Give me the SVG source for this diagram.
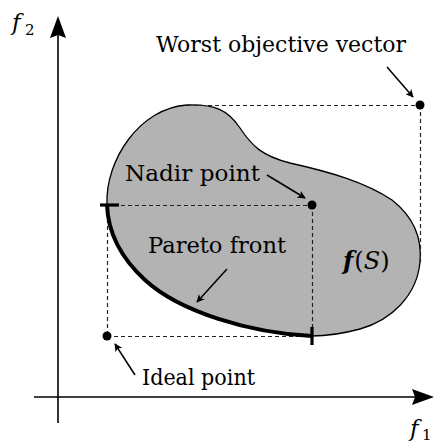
<svg xmlns="http://www.w3.org/2000/svg" width="435" height="443" viewBox="0 0 435 443">
  <defs>
    <marker id="ah" viewBox="0 0 10 10" refX="9" refY="5" markerWidth="8" markerHeight="8" markerUnits="userSpaceOnUse" orient="auto">
      <path d="M0,0 L10,5 L0,10 L2.5,5 Z" fill="#000"/>
    </marker>
  </defs>
  <style>
    text { font-family: "DejaVu Serif", "Liberation Serif", serif; fill: #000; }
    .lbl { font-size: 22px; }
    .math { font-style: italic; font-size: 23px; }
    .sub { font-size: 15px; }
    .dash { stroke: #222; stroke-width: 1.2; stroke-dasharray: 4 3; fill: none; }
    .arr { stroke: #000; stroke-width: 1.5; fill: none; marker-end: url(#ah); }
    .axis { stroke: #000; stroke-width: 1.6; fill: none; }
    .pt { fill: #000; }
  </style>

  <g id="axes">
    <line class="axis" x1="58" y1="423" x2="58" y2="30"/>
    <path d="M58,16 L50,38 L58,35 L66,38 Z" fill="#000"/>
    <line class="axis" x1="34" y1="397" x2="420" y2="397"/>
    <path d="M434,397 L412,389 L415,397 L412,405 Z" fill="#000"/>
    <text class="math" x="12" y="30">f</text>
    <text class="sub" x="25" y="35">2</text>
    <text class="math" x="410" y="436">f</text>
    <text class="sub" x="422" y="440">1</text>
  </g>

  <g id="region">
    <path d="M187,105 C215,104 228,110 240,128 C252,146 262,156 290,163 C330,172 365,182 392,200 C415,218 422,240 420,262 C417,295 392,320 360,329 C345,333 325,336 312,336 C250,333 180,312 145,280 C120,257 108,232 107,205 C105,160 140,108 187,105 Z" fill="#b3b3b3" stroke="#000" stroke-width="1.3"/>
    <text x="343" y="269" font-size="24"><tspan font-weight="bold" font-style="italic">f</tspan><tspan dx="1">(</tspan><tspan font-style="italic">S</tspan><tspan>)</tspan></text>
  </g>

  <g id="connectors">
    <line class="dash" x1="187" y1="105.5" x2="420" y2="105.5"/>
    <line class="dash" x1="420.5" y1="105" x2="420.5" y2="262"/>
    <line class="dash" x1="107" y1="205.5" x2="312" y2="205.5"/>
    <line class="dash" x1="312.5" y1="205" x2="312.5" y2="336"/>
    <line class="dash" x1="107.5" y1="205" x2="107.5" y2="336"/>
    <line class="dash" x1="107" y1="336.5" x2="312" y2="336.5"/>
    <line class="arr" x1="387" y1="67" x2="413" y2="97"/>
    <line class="arr" x1="267" y1="175" x2="305" y2="198"/>
    <line class="arr" x1="227" y1="269" x2="197" y2="302"/>
    <line class="arr" x1="135" y1="375" x2="115" y2="344"/>
  </g>

  <g id="pareto-front">
    <path d="M312,336 C250,333 180,312 145,280 C120,257 108,232 107,205" fill="none" stroke="#000" stroke-width="4"/>
    <line x1="100" y1="205" x2="119" y2="205" stroke="#000" stroke-width="3.2"/>
    <line x1="312" y1="327" x2="312" y2="345" stroke="#000" stroke-width="3.2"/>
    <text class="lbl" x="148" y="253" textLength="138" lengthAdjust="spacingAndGlyphs">Pareto front</text>
  </g>

  <g id="worst-point">
    <circle class="pt" cx="420" cy="105" r="4.5"/>
    <text class="lbl" x="156" y="52" textLength="250" lengthAdjust="spacingAndGlyphs">Worst objective vector</text>
  </g>

  <g id="nadir-point">
    <circle class="pt" cx="312" cy="205" r="4.5"/>
    <text class="lbl" x="125" y="181" textLength="135" lengthAdjust="spacingAndGlyphs">Nadir point</text>
  </g>

  <g id="ideal-point">
    <circle class="pt" cx="107" cy="336" r="4.5"/>
    <text class="lbl" x="142" y="385" textLength="113" lengthAdjust="spacingAndGlyphs">Ideal point</text>
  </g>
</svg>
